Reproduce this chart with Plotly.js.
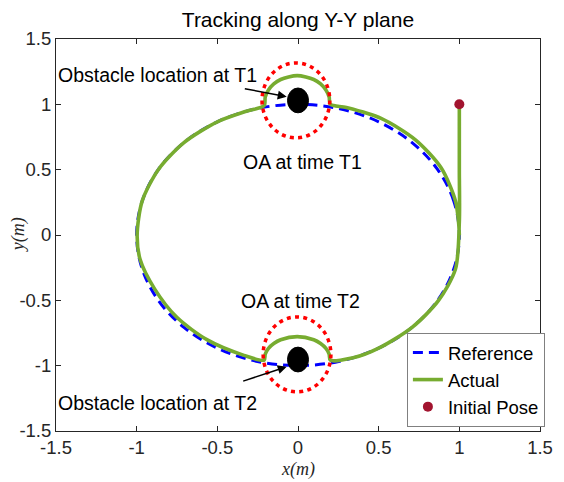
<!DOCTYPE html>
<html>
<head>
<meta charset="utf-8">
<script src="https://cdn.plot.ly/plotly-3.0.1.min.js"></script>
<style>html,body{margin:0;padding:0;background:#fff;}#chart{width:564px;height:482px;}</style>
</head>
<body>
<div id="chart"></div>
<script>
// Reference trajectory (unit circle)
var refX = [1, 0.966, 0.866, 0.707, 0.5, 0.259, 0, -0.259, -0.5, -0.707, -0.866, -0.966, -1, -0.966, -0.866, -0.707, -0.5, -0.259, 0, 0.259, 0.5, 0.707, 0.866, 0.966, 1];
var refY = [0, 0.259, 0.5, 0.707, 0.866, 0.966, 1, 0.966, 0.866, 0.707, 0.5, 0.259, 0, -0.259, -0.5, -0.707, -0.866, -0.966, -1, -0.966, -0.866, -0.707, -0.5, -0.259, 0];

// Actual trajectory
var actX = [1.0, 1.0, 1.0, 0.976, 0.870, 0.707, 0.5, 0.342, 0.2,
  0.193, 0.173, 0.14, 0.0975, -0.005, -0.1075, -0.15, -0.183, -0.203, -0.21,
  -0.335, -0.562, -0.751, -0.888, -0.978, -0.997, -0.966, -0.866, -0.707, -0.5, -0.32, -0.21,
  -0.203, -0.183, -0.15, -0.1075, -0.005, 0.0975, 0.14, 0.173, 0.193, 0.2,
  0.3, 0.515, 0.728, 0.888, 0.976, 0.996, 1.0];
var actY = [1.0, 0.5, 0.1, -0.261, -0.5025, -0.707, -0.866, -0.94, -0.958,
  -0.911, -0.868, -0.831, -0.802, -0.778, -0.802, -0.831, -0.868, -0.911, -0.958,
  -0.921, -0.803, -0.630, -0.414, -0.19, 0.0, 0.259, 0.5, 0.707, 0.866, 0.947, 0.99,
  1.057, 1.11, 1.156, 1.19, 1.22, 1.19, 1.156, 1.11, 1.057, 1.0,
  0.975, 0.892, 0.728, 0.5125, 0.261, 0.087, 0.0];

// Initial pose
var poseX = [1];
var poseY = [1];

// Obstacles (centres of black discs and of safety circles)
var obsX = [0, 0];
var obsY = [1.03, -0.953];
var safeX = [-0.013, -0.006];
var safeY = [1.03, -0.914];

// Tick labels
var tickVals = [-1.5, -1, -0.5, 0, 0.5, 1, 1.5];
var tickText = ['-1.5', '-1', '-0.5', '0', '0.5', '1', '1.5'];

// Annotation texts
var labelText = ['Obstacle location at T1', 'OA at time T1', 'OA at time T2', 'Obstacle location at T2'];
var labelX = [-0.871, 0.025, 0.015, -0.868];
var labelY = [1.224, 0.555, -0.505, -1.282];
var arrowTailX = [-0.339, -0.349];
var arrowTailY = [1.122, -1.122];
var arrowTipX = [-0.07, -0.07];
var arrowTipY = [1.058, -1.008];

var FONT = 'Liberation Sans, Arial, Helvetica, sans-serif';
var SERIF = 'Liberation Serif, Times New Roman, serif';
var AX = '#262626';

var traces = [
  {x: refX, y: refY, mode: 'lines', name: 'Reference',
   line: {color: '#0000ff', width: 3, dash: '10px,6px', shape: 'spline', smoothing: 1}},
  {x: actX, y: actY, mode: 'lines', name: 'Actual',
   line: {color: '#77ac30', width: 3.6, shape: 'spline', smoothing: 0.8}},
  {x: poseX, y: poseY, mode: 'markers', name: 'Initial Pose',
   marker: {color: '#a2142f', size: 10}}
];

var shapes = [];
for (var i = 0; i < obsX.length; i++) {
  shapes.push({type: 'circle', xref: 'x', yref: 'y', layer: 'above',
    x0: obsX[i] - 0.065, x1: obsX[i] + 0.065, y0: obsY[i] - 0.095, y1: obsY[i] + 0.095,
    fillcolor: '#000000', line: {color: '#000000', width: 1}});
  shapes.push({type: 'circle', xref: 'x', yref: 'y', layer: 'above',
    x0: safeX[i] - 0.21, x1: safeX[i] + 0.21, y0: safeY[i] - 0.287, y1: safeY[i] + 0.287,
    line: {color: '#ff0000', width: 3.5, dash: '4px,4.3px'}});
}

var annotations = [];
for (var j = 0; j < labelText.length; j++) {
  annotations.push({xref: 'x', yref: 'y', x: labelX[j], y: labelY[j], text: labelText[j],
    showarrow: false, xanchor: 'center', yanchor: 'middle',
    font: {family: FONT, size: 19.5, color: '#000'}});
}
for (var k = 0; k < arrowTipX.length; k++) {
  annotations.push({xref: 'x', yref: 'y', axref: 'x', ayref: 'y',
    x: arrowTipX[k], y: arrowTipY[k], ax: arrowTailX[k], ay: arrowTailY[k], text: '',
    showarrow: true, arrowhead: 2, arrowsize: 1.2, arrowwidth: 1.5, arrowcolor: '#000'});
}
// axis titles
annotations.push({xref: 'paper', yref: 'paper', x: 0.5, y: -0.099, text: '<i>x(m)</i>',
  showarrow: false, xanchor: 'center', yanchor: 'middle',
  font: {family: SERIF, size: 18, color: AX}});
annotations.push({xref: 'paper', yref: 'paper', x: -0.078, y: 0.5, text: '<i>y(m)</i>',
  showarrow: false, xanchor: 'center', yanchor: 'middle', textangle: -90,
  font: {family: SERIF, size: 18, color: AX}});

var axisCommon = {
  range: [-1.5, 1.5], tickmode: 'array', tickvals: tickVals, ticktext: tickText,
  ticks: 'inside', ticklen: 5, tickwidth: 1, tickcolor: AX,
  showline: true, linecolor: AX, linewidth: 1, mirror: 'ticks',
  showgrid: false, zeroline: false,
  tickfont: {family: FONT, size: 18.5, color: AX}
};

var layout = {
  width: 564, height: 482,
  margin: {l: 56, r: 24, t: 39, b: 51, pad: 0},
  paper_bgcolor: '#ffffff', plot_bgcolor: '#ffffff',
  showlegend: true,
  title: {text: 'Tracking along Y-Y plane', x: 0.5, xref: 'paper', xanchor: 'center',
    y: 0.9585, yref: 'container', yanchor: 'middle',
    font: {family: FONT, size: 21, color: '#000'}},
  xaxis: axisCommon,
  yaxis: Object.assign({}, axisCommon),
  legend: {x: 0.725, y: 0.25, xanchor: 'left', yanchor: 'top',
    bgcolor: '#ffffff', bordercolor: '#808080', borderwidth: 1, itemwidth: 30,
    font: {family: FONT, size: 18.5, color: '#000'}, tracegroupgap: 0},
  shapes: shapes,
  annotations: annotations
};

Plotly.newPlot('chart', traces, layout, {displayModeBar: false, staticPlot: true});
</script>
</body>
</html>
